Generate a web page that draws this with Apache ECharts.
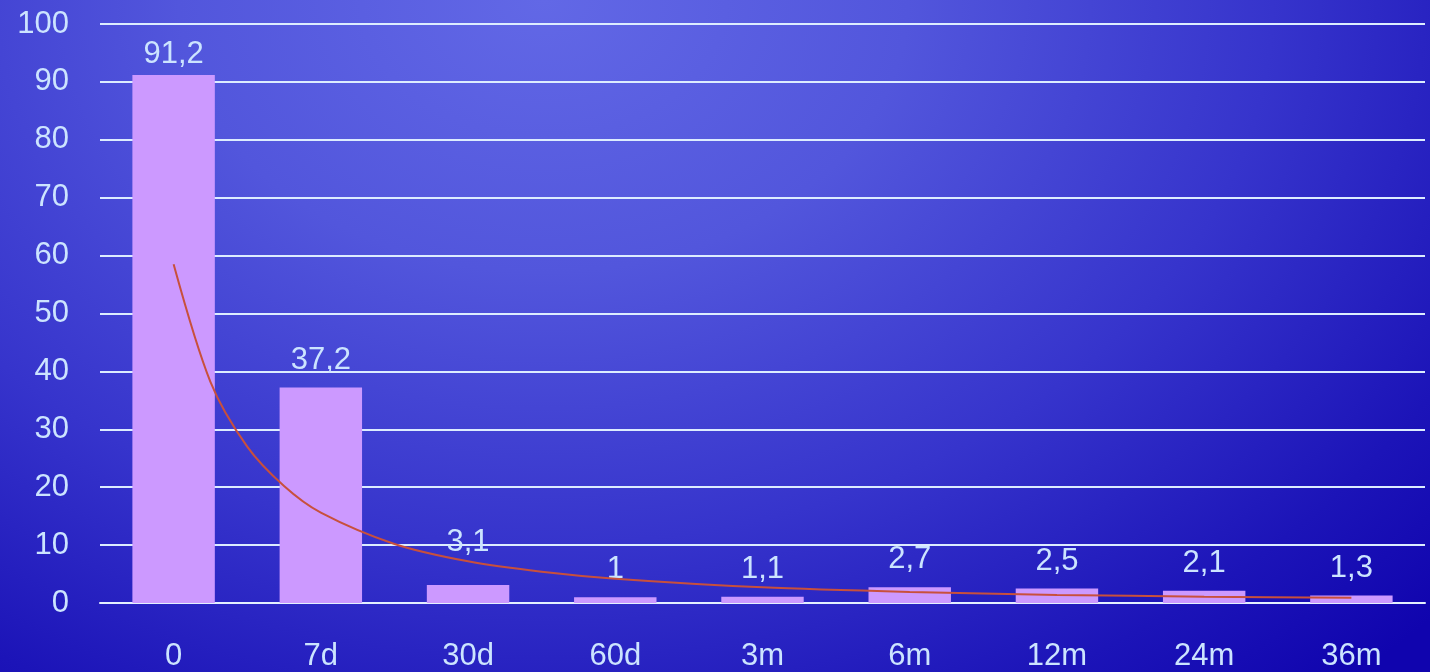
<!DOCTYPE html>
<html>
<head>
<meta charset="utf-8">
<script src="https://cdn.jsdelivr.net/npm/echarts@6/dist/echarts.min.js"></script>
<style>
  html, body { margin: 0; padding: 0; }
  #chart {
    width: 1430px; height: 672px;
    background: radial-gradient(ellipse 85% 135% at 38% 0%, #6268e6 0%, #5256dc 30%, #3634cc 60%, #1c14b8 85%, #1004ae 100%);
  }
</style>
</head>
<body>
<div id="chart"></div>
<script>
// Time points after the event
const categories = ['0', '7d', '30d', '60d', '3m', '6m', '12m', '24m', '36m'];
// Measured values per time point
const barValues = [91.2, 37.2, 3.1, 1, 1.1, 2.7, 2.5, 2.1, 1.3];
// Power trend line: positions (1 = first time point) and values along the curve
const trendX = [1, 1.25, 1.5, 1.75, 2, 2.5, 3, 3.5, 4, 5, 6, 7, 8, 9];
const trendY = [58.5, 38.2, 27.0, 20.2, 15.6, 10.2, 7.2, 5.4, 4.2, 2.7, 1.9, 1.4, 1.1, 0.9];
// Value axis ticks
const yMin = 0, yMax = 100, yStep = 10;

const textColor = '#cce4ff';
const font = '"Liberation Sans", Arial, sans-serif';

// label gap above each bar; the tallest sits closer to the top edge,
// the 30d label is lifted clear of the trend curve
function labelDistance(i) {
  if (i === 0) return 5;
  if (i === 2) return 27;
  return 12;
}

const chart = echarts.init(document.getElementById('chart'), null, { renderer: 'canvas' });
chart.setOption({
  backgroundColor: 'transparent',
  animation: false,
  grid: { left: 100, right: 5, top: 24, bottom: 69 },
  xAxis: [
    {
      type: 'category',
      data: categories,
      axisLine: { show: true, lineStyle: { color: '#e4f0ff', width: 2 } },
      axisTick: { show: false },
      axisLabel: { color: textColor, fontFamily: font, fontSize: 31, margin: 38 }
    },
    {
      // continuous axis aligned with the categories, for the trend curve
      type: 'value',
      min: 0.5, max: categories.length + 0.5,
      show: false
    }
  ],
  yAxis: {
    type: 'value',
    min: yMin, max: yMax, interval: yStep,
    axisLine: { show: false },
    axisTick: { show: false },
    axisLabel: { color: textColor, fontFamily: font, fontSize: 31, margin: 31 },
    splitLine: { lineStyle: { color: '#dcecff', width: 2 } }
  },
  series: [
    {
      type: 'bar',
      data: barValues.map((v, i) => ({ value: v, label: { distance: labelDistance(i) } })),
      barWidth: '56%',
      itemStyle: { color: '#cc99ff' },
      label: {
        show: true,
        position: 'top',
        color: textColor,
        fontFamily: font,
        fontSize: 31,
        formatter: p => String(p.value).replace('.', ',')
      }
    },
    {
      type: 'line',
      xAxisIndex: 1,
      data: trendX.map((x, i) => [x, trendY[i]]),
      smooth: 0.3,
      symbol: 'none',
      lineStyle: { color: '#c8503c', width: 2 },
      z: 5
    }
  ]
});
</script>
</body>
</html>
